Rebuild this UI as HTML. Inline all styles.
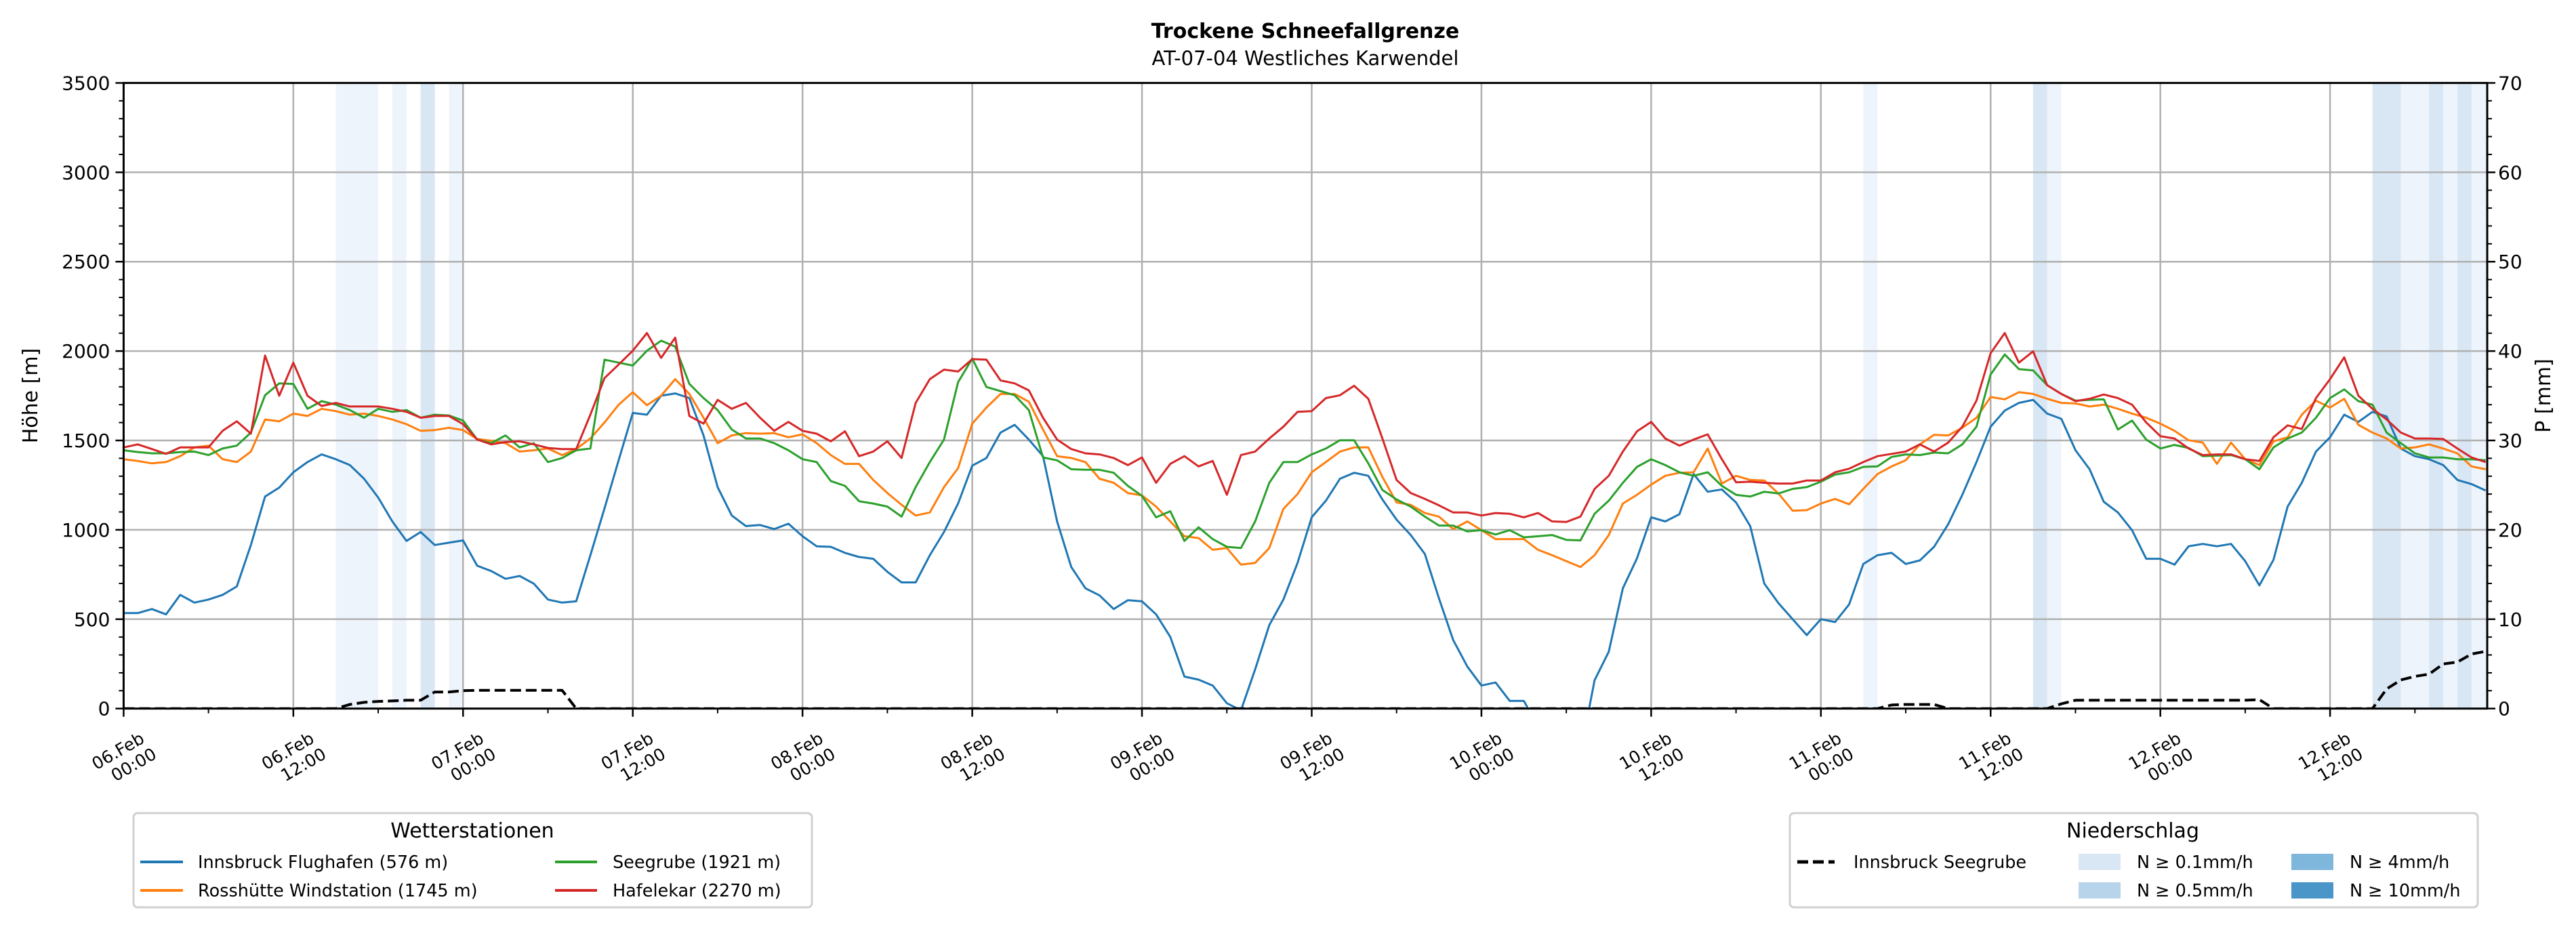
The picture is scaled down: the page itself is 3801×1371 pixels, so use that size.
<!DOCTYPE html>
<html><head><meta charset="utf-8"><style>
html,body{margin:0;padding:0;background:#fff;}
svg{display:block;font-family:"DejaVu Sans","Liberation Sans",sans-serif;}
</style></head><body>
<svg id="chart" width="3801" height="1371" viewBox="0 0 3801 1371" xmlns="http://www.w3.org/2000/svg">
<text x="1926" y="56" font-size="30" font-weight="bold" text-anchor="middle">Trockene Schneefallgrenze</text>
<text x="1926" y="96" font-size="29" text-anchor="middle">AT-07-04 Westliches Karwendel</text>
<defs><clipPath id="plotclip"><rect x="182.4" y="122.4" width="3487.6" height="923.3"/></clipPath></defs>
<g id="bands" clip-path="url(#plotclip)"></g>
<g id="grid"></g>
<g id="series" clip-path="url(#plotclip)"></g>
<g id="axes"></g>
<text transform="translate(55,584) rotate(-90)" font-size="30" text-anchor="middle">Höhe [m]</text>
<text transform="translate(3763,584) rotate(-90)" font-size="30" text-anchor="middle">P [mm]</text>
<g>
<rect x="197" y="1200" width="1001" height="139" rx="6" fill="#fff" stroke="#d0d0d0" stroke-width="3"/>
<text x="697" y="1236" font-size="30" text-anchor="middle">Wetterstationen</text>
<line x1="207" y1="1272" x2="270" y2="1272" stroke="#1f77b4" stroke-width="4"/>
<text x="292" y="1281" font-size="25.5">Innsbruck Flughafen (576 m)</text>
<line x1="207" y1="1314" x2="270" y2="1314" stroke="#ff7f0e" stroke-width="4"/>
<text x="292" y="1323" font-size="25.5">Rosshütte Windstation (1745 m)</text>
<line x1="819" y1="1272" x2="881" y2="1272" stroke="#2ca02c" stroke-width="4"/>
<text x="904" y="1281" font-size="25.5">Seegrube (1921 m)</text>
<line x1="819" y1="1314" x2="881" y2="1314" stroke="#d62728" stroke-width="4"/>
<text x="904" y="1323" font-size="25.5">Hafelekar (2270 m)</text>
</g>
<g>
<rect x="2641" y="1200" width="1015" height="139" rx="6" fill="#fff" stroke="#d0d0d0" stroke-width="3"/>
<text x="3147" y="1236" font-size="30" text-anchor="middle">Niederschlag</text>
<line x1="2652" y1="1272" x2="2707" y2="1272" stroke="#000" stroke-width="5" stroke-dasharray="16,7"/>
<text x="2735" y="1281" font-size="25.5">Innsbruck Seegrube</text>
<rect x="3067" y="1260" width="62" height="24" fill="#d9e7f4"/>
<text x="3153" y="1281" font-size="25.5">N ≥ 0.1mm/h</text>
<rect x="3067" y="1302" width="62" height="24" fill="#b7d4ea"/>
<text x="3153" y="1323" font-size="25.5">N ≥ 0.5mm/h</text>
<rect x="3381" y="1260" width="62" height="24" fill="#7fb6dc"/>
<text x="3467" y="1281" font-size="25.5">N ≥ 4mm/h</text>
<rect x="3381" y="1302" width="62" height="24" fill="#4a96c9"/>
<text x="3467" y="1323" font-size="25.5">N ≥ 10mm/h</text>
</g>
</svg>
<script>
const innsbruck=[534,534,557,527,636,593,610,636,683,915,1186,1236,1322,1379,1422,1395,1362,1286,1180,1047,938,988,915,928,941,799,769,726,742,699,610,593,600,858,1120,1390,1654,1644,1750,1763,1737,1528,1239,1080,1021,1027,1004,1034,964,908,905,871,848,838,765,706,706,858,988,1147,1359,1402,1544,1587,1505,1412,1047,792,673,633,557,606,600,527,401,179,162,129,30,-10,219,467,610,815,1070,1163,1286,1319,1302,1170,1057,971,865,616,384,235,129,146,43,43,-100,-150,-150,-250,159,318,673,841,1070,1047,1087,1312,1213,1226,1153,1021,699,590,500,411,500,484,583,809,858,871,809,829,905,1031,1196,1379,1577,1667,1710,1727,1650,1621,1445,1339,1157,1097,998,838,838,805,908,921,908,921,825,689,832,1130,1263,1438,1518,1644,1604,1660,1634,1455,1412,1395,1362,1279,1256,1220];
const rosshuette=[1395,1385,1372,1379,1412,1461,1471,1395,1379,1438,1617,1607,1650,1637,1677,1664,1644,1650,1637,1617,1591,1554,1558,1571,1558,1508,1498,1485,1438,1445,1455,1418,1452,1511,1601,1700,1770,1697,1750,1843,1760,1627,1485,1528,1541,1538,1541,1518,1534,1485,1418,1369,1369,1279,1206,1140,1080,1097,1239,1345,1594,1684,1760,1760,1717,1561,1412,1402,1379,1286,1263,1206,1193,1130,1047,964,954,888,898,805,815,898,1117,1200,1322,1379,1438,1461,1461,1296,1153,1140,1094,1074,1004,1047,998,948,948,948,888,858,825,792,858,971,1147,1196,1253,1302,1319,1322,1455,1259,1302,1279,1276,1203,1107,1110,1147,1173,1143,1229,1312,1355,1389,1478,1531,1528,1571,1627,1743,1730,1770,1760,1733,1710,1707,1690,1700,1677,1650,1627,1594,1554,1501,1488,1369,1488,1395,1362,1495,1518,1644,1723,1684,1733,1587,1544,1511,1455,1461,1478,1455,1428,1355,1339];
const seegrube=[1445,1435,1428,1428,1435,1438,1418,1455,1471,1544,1753,1819,1816,1677,1720,1700,1670,1627,1677,1660,1670,1627,1644,1640,1611,1505,1485,1528,1461,1485,1379,1402,1445,1455,1952,1935,1919,2002,2058,2025,1816,1737,1670,1561,1511,1511,1485,1445,1395,1379,1273,1246,1160,1147,1130,1074,1239,1379,1505,1826,1958,1799,1776,1753,1670,1405,1389,1339,1336,1336,1319,1246,1190,1070,1104,938,1014,948,905,898,1047,1263,1379,1379,1422,1455,1501,1501,1372,1223,1170,1130,1074,1024,1024,991,998,974,998,958,964,971,944,941,1090,1163,1263,1352,1395,1362,1322,1302,1322,1246,1196,1186,1213,1203,1229,1239,1269,1309,1322,1352,1355,1408,1422,1418,1432,1428,1478,1577,1869,1981,1899,1892,1809,1760,1723,1727,1730,1561,1611,1505,1455,1475,1458,1412,1415,1418,1395,1339,1461,1511,1544,1627,1737,1786,1720,1700,1544,1485,1428,1405,1405,1395,1395,1389];
const hafelekar=[1461,1478,1452,1425,1461,1461,1461,1554,1607,1538,1975,1750,1935,1750,1693,1710,1690,1690,1690,1677,1660,1627,1637,1637,1591,1505,1478,1491,1495,1478,1458,1452,1452,1644,1849,1925,2002,2101,1962,2075,1637,1594,1727,1677,1710,1627,1554,1604,1554,1538,1495,1551,1412,1438,1495,1402,1710,1843,1896,1886,1955,1952,1836,1819,1780,1627,1505,1452,1428,1422,1402,1362,1405,1263,1369,1412,1355,1385,1196,1418,1438,1511,1577,1660,1664,1737,1753,1806,1733,1511,1279,1206,1173,1137,1097,1097,1080,1094,1090,1070,1094,1047,1044,1074,1229,1302,1438,1551,1604,1511,1471,1505,1534,1395,1266,1269,1263,1259,1259,1276,1276,1322,1342,1379,1412,1425,1438,1478,1438,1488,1577,1723,1988,2101,1935,1998,1809,1760,1720,1733,1757,1737,1700,1601,1524,1511,1455,1418,1422,1422,1395,1385,1518,1584,1564,1737,1843,1965,1750,1677,1617,1544,1511,1511,1508,1455,1405,1379];
const precip=[0,0,0,0,0,0,0,0,0,0,0,0,0,0,0,0,0.46,0.7,0.8,0.86,0.93,0.93,1.86,1.86,2.0,2.05,2.05,2.05,2.05,2.05,2.05,2.05,0,0,0,0,0,0,0,0,0,0,0,0,0,0,0,0,0,0,0,0,0,0,0,0,0,0,0,0,0,0,0,0,0,0,0,0,0,0,0,0,0,0,0,0,0,0,0,0,0,0,0,0,0,0,0,0,0,0,0,0,0,0,0,0,0,0,0,0,0,0,0,0,0,0,0,0,0,0,0,0,0,0,0,0,0,0,0,0,0,0,0,0,0,0.4,0.46,0.46,0.46,0,0,0,0,0,0,0,0,0.53,0.93,0.93,0.93,0.93,0.93,0.93,0.93,0.93,0.93,0.93,0.93,0.93,0.93,1.0,0,0,0,0,0,0,0,0,2.2,3.2,3.6,3.85,5.0,5.2,6.1,6.4];
// precipitation bands: start hour, end hour, level (0 = trace, 1 = >=0.1)
const bandStart=[15,19,21,23,123,135,136,159,161,163,164,165,166];
const bandEnd=[18,20,22,24,124,136,137,161,163,164,165,166,167.1];
const bandLevel=[0,0,1,0,0,1,0,1,0,1,0,1,0];
const yTicks=[0,500,1000,1500,2000,2500,3000,3500];
const y2Ticks=[0,10,20,30,40,50,60,70];
const xTickDays=["06.Feb","06.Feb","07.Feb","07.Feb","08.Feb","08.Feb","09.Feb","09.Feb","10.Feb","10.Feb","11.Feb","11.Feb","12.Feb","12.Feb"];
const xTickTimes=["00:00","12:00","00:00","12:00","00:00","12:00","00:00","12:00","00:00","12:00","00:00","12:00","00:00","12:00"];

const NS="http://www.w3.org/2000/svg";
const X0=182.4,X1=3670,Y0=1045.7,YT=122.4;
const xs=h=>X0+h*20.87;
const ys=v=>Y0-v*(Y0-YT)/3500;
const yp=p=>Y0-p*(Y0-YT)/70;
function mk(tag,attrs,parent){const e=document.createElementNS(NS,tag);for(const k in attrs)e.setAttribute(k,attrs[k]);parent.appendChild(e);return e;}
const bands=document.getElementById('bands'),grid=document.getElementById('grid'),series=document.getElementById('series'),axes=document.getElementById('axes');
const bandColors=['#eef4fb','#d9e6f3'];
bandStart.forEach((s,i)=>{
  const r=mk('rect',{x:xs(s),y:YT,width:xs(bandEnd[i])-xs(s),height:Y0-YT,fill:bandColors[bandLevel[i]]},bands);
  
  
});
yTicks.forEach(v=>{
  const l=mk('line',{x1:X0,x2:X1,y1:ys(v),y2:ys(v),stroke:'#b0b0b0','stroke-width':2.5},grid);
  
  
  mk('line',{x1:X0-12,x2:X0,y1:ys(v),y2:ys(v),stroke:'#000','stroke-width':2.5},axes);
  const t=mk('text',{x:X0-20,y:ys(v)+10,'font-size':28,'text-anchor':'end'},axes);
  t.textContent=v;
  
  
});
for(let v=0;v<=3500;v+=100){if(v%500)mk('line',{x1:X0-7,x2:X0,y1:ys(v),y2:ys(v),stroke:'#000','stroke-width':2},axes);}
y2Ticks.forEach(p=>{
  mk('line',{x1:X1,x2:X1+12,y1:yp(p),y2:yp(p),stroke:'#000','stroke-width':2.5},axes);
  const t=mk('text',{x:X1+16,y:yp(p)+10,'font-size':28},axes);
  t.textContent=p;
  
  
});
for(let p=0;p<=70;p+=2){if(p%10)mk('line',{x1:X1,x2:X1+7,y1:yp(p),y2:yp(p),stroke:'#000','stroke-width':2},axes);}
xTickDays.forEach((d,i)=>{
  const h=i*12,x=xs(h);
  const l=mk('line',{x1:x,x2:x,y1:YT,y2:Y0,stroke:'#b0b0b0','stroke-width':2.5},grid);
  
  
  mk('line',{x1:x,x2:x,y1:Y0,y2:Y0+12,stroke:'#000','stroke-width':2.5},axes);
  const t=mk('text',{transform:`translate(${x-4},${Y0+70}) rotate(-30)`,'font-size':25,'text-anchor':'middle'},axes);
  
  
  const a=mk('tspan',{x:0,y:0},t);a.textContent=d;
  const b=mk('tspan',{x:10,y:29},t);b.textContent=xTickTimes[i];
});
for(let h=6;h<168;h+=12)mk('line',{x1:xs(h),x2:xs(h),y1:Y0,y2:Y0+7,stroke:'#000','stroke-width':2},axes);
function line(arr,fy,color,name,dash){
  const pts=arr.map((v,i)=>xs(i).toFixed(1)+','+fy(v).toFixed(1)).join(' ');
  const p=mk('polyline',{points:pts,fill:'none',stroke:color,'stroke-width':dash?4:3,'stroke-linejoin':'round'},series);
  if(dash)p.setAttribute('stroke-dasharray','16,7');
  
  
}
line(innsbruck,ys,'#1f77b4','line-innsbruck');
line(rosshuette,ys,'#ff7f0e','line-rosshuette');
line(seegrube,ys,'#2ca02c','line-seegrube');
line(hafelekar,ys,'#d62728','line-hafelekar');
line(precip,yp,'#000','line-precip-seegrube',true);
const fr=mk('rect',{x:X0,y:YT,width:X1-X0,height:Y0-YT,fill:'none',stroke:'#000','stroke-width':3},axes);


</script>
</body></html>
